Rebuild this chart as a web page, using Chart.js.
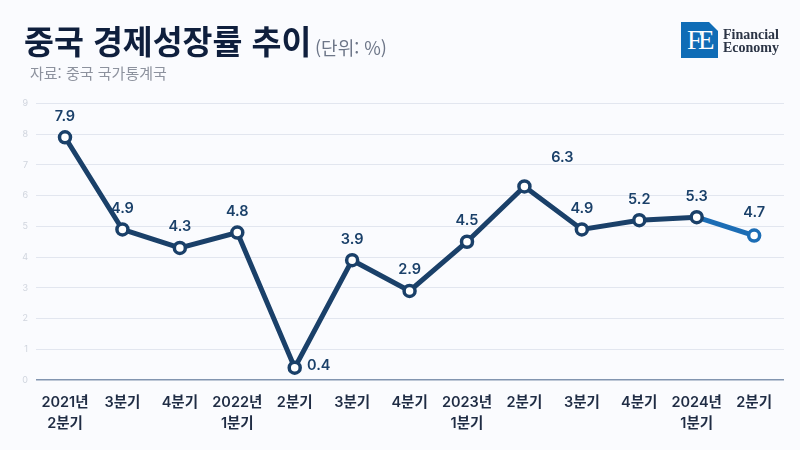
<!DOCTYPE html>
<html lang="ko">
<head>
<meta charset="utf-8">
<title>중국 경제성장률 추이</title>
<script src="https://cdn.jsdelivr.net/npm/chart.js@4"></script>
<style>
    html, body { margin: 0; padding: 0; background: #fafbfe; }
    #wrap { position: relative; width: 800px; height: 450px; overflow: hidden; font-family: "Noto Sans CJK KR", sans-serif; }
    #chart { position: absolute; left: 0; top: 0; }
    .txt { position: absolute; white-space: nowrap; }
    #title { left: 24px; top: 16px; font-size: 32.5px; line-height: 48px; font-weight: 700; color: #0f1f3d; }
    #unit { left: 315px; top: 33px; font-size: 18px; line-height: 28px; color: #6d7688; }
    #source { left: 30px; top: 62px; font-size: 15px; line-height: 22px; color: #8d929e; }
    #logo { position: absolute; left: 681px; top: 22px; width: 37px; height: 36px; background: #0f6cb6; overflow: hidden; }
    #logo span { position: absolute; left: 6px; top: 3px; font: 27px/30px "Liberation Serif", serif; letter-spacing: -4px; color: #fff; }
    #logo i { position: absolute; right: 0; top: 0; width: 0; height: 0; border-top: 9px solid #fafbfe; border-left: 9px solid transparent; }
    #brand { left: 723px; top: 28px; font: 700 14px/13px "Liberation Serif", serif; color: #2b3445; }
</style>
</head>
<body>
<div id="wrap">
    <canvas id="chart" width="800" height="450"></canvas>
    <div class="txt" id="title">중국 경제성장률 추이</div>
    <div class="txt" id="unit">(단위: %)</div>
    <div class="txt" id="source">자료: 중국 국가통계국</div>
    <div id="logo"><span>FE</span><i></i></div>
    <div class="txt" id="brand">Financial<br>Economy</div>
</div>
<script>
const quarters = [
    ['2021년', '2분기'], '3분기', '4분기', ['2022년', '1분기'], '2분기', '3분기', '4분기',
    ['2023년', '1분기'], '2분기', '3분기', '4분기', ['2024년', '1분기'], '2분기'
];
const growth = [7.9, 4.9, 4.3, 4.8, 0.4, 3.9, 2.9, 4.5, 6.3, 4.9, 5.2, 5.3, 4.7];

const navy = '#1a4069';
const blue = '#1c6db5';
const lastIndex = growth.length - 1;

// 값 라벨: 대부분 점 위에 두고 0.4와 6.3만 따로 옮긴다
const labelShift = { 4: [24, -2], 8: [38, -29] };

const valueLabels = {
    id: 'valueLabels',
    afterDatasetsDraw(chart) {
        const ctx = chart.ctx;
        const points = chart.getDatasetMeta(0).data;
        ctx.save();
        ctx.font = '600 14.5px "Inter", "Noto Sans CJK KR", sans-serif';
        ctx.fillStyle = navy;
        ctx.textAlign = 'center';
        ctx.textBaseline = 'middle';
        points.forEach((pt, i) => {
            const shift = labelShift[i] || [0, i === lastIndex ? -23 : -21];
            ctx.fillText(growth[i].toFixed(1), pt.x + shift[0], pt.y + shift[1]);
        });
        ctx.restore();
    }
};

new Chart(document.getElementById('chart').getContext('2d'), {
    type: 'line',
    data: {
        datasets: [{
            data: growth.map((v, i) => ({ x: i, y: v })),
            borderColor: navy,
            borderWidth: 5,
            tension: 0,
            pointRadius: 5.5,
            pointBorderWidth: 3.5,
            pointBackgroundColor: '#ffffff',
            pointBorderColor: growth.map((v, i) => i === lastIndex ? blue : navy),
            segment: {
                borderColor: c => c.p1DataIndex === lastIndex ? blue : navy
            }
        }]
    },
    plugins: [valueLabels],
    options: {
        responsive: false,
        animation: false,
        layout: { padding: { left: 0, right: 16, top: 103.5, bottom: 0 } },
        plugins: { legend: { display: false }, tooltip: { enabled: false } },
        scales: {
            x: {
                type: 'linear',
                min: -0.505,
                max: 12.52,
                afterBuildTicks(axis) {
                    axis.ticks = quarters.map((q, i) => ({ value: i }));
                },
                afterFit(axis) { axis.height = 70; },
                grid: { display: false },
                border: { display: false },
                ticks: {
                    autoSkip: false,
                    maxRotation: 0,
                    padding: 4,
                    color: '#1f2c44',
                    font: { family: '"Inter", "Noto Sans CJK KR", sans-serif', size: 14.5, weight: '600', lineHeight: 1.45 },
                    callback: (v) => quarters[v]
                }
            },
            y: {
                min: 0,
                max: 9,
                afterFit(axis) { axis.width = 36; },
                grid: {
                    drawTicks: false,
                    color: c => c.tick.value === 0 ? '#8295b0' : '#e2e6ef',
                    lineWidth: c => c.tick.value === 0 ? 1.5 : 1
                },
                border: { display: false },
                ticks: {
                    stepSize: 1,
                    padding: 8,
                    color: '#d0d5de',
                    font: { family: '"Inter", sans-serif', size: 9 }
                }
            }
        }
    }
});
</script>
</body>
</html>
